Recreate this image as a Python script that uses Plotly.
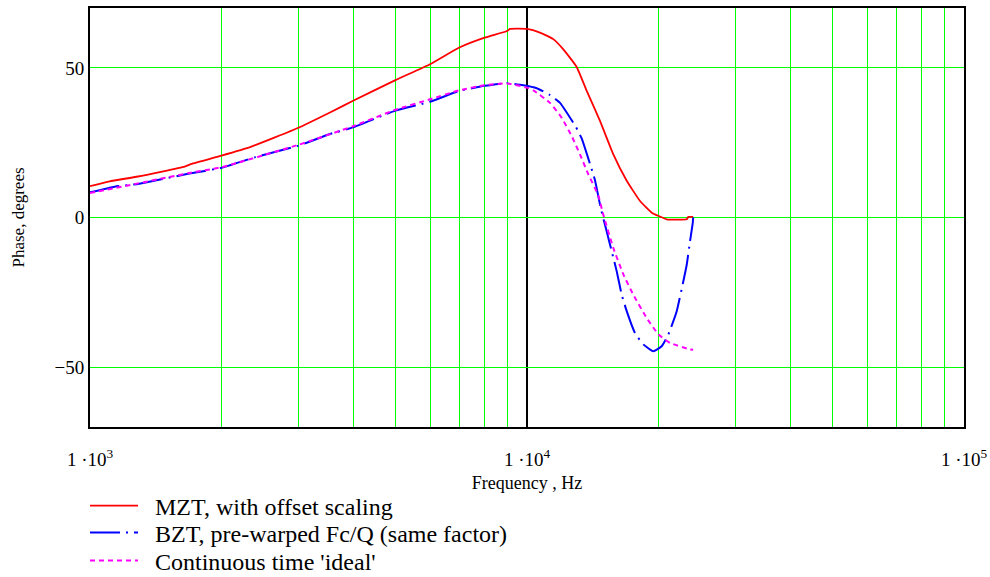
import plotly.graph_objects as go

# ---- data ----
freq_mzt = [1000, 1109, 1288, 1647, 1705, 2000, 2340, 3000, 3541, 4000, 5000, 6000, 7000, 8000,
            9000, 9144, 10000, 10708, 11486, 12110, 12992, 13698, 14690, 15760, 16912, 18143,
            19294, 20000, 20877, 23200, 23395, 24000]
phase_mzt = [10.5, 12.1, 13.7, 17.0, 17.9, 20.7, 23.7, 30.0, 35.1, 39.0, 45.9, 51.2, 56.8, 60.1,
             62.3, 63.0, 63.0, 61.8, 59.6, 56.2, 50.3, 42.3, 32.3, 21.1, 12.3, 5.5,
             1.6, 0.5, -0.6, -0.6, 0.2, 0.2]

freq_bzt = [1000, 1139, 1288, 1676, 2000, 2382, 3000, 3541, 4000, 5000, 6000, 7000, 8000, 9000,
            9806, 10524, 11288, 11899, 12944, 13339, 13984, 14304, 14746, 15221, 15627, 16045,
            16472, 16912, 17665, 18457, 19454, 20333, 21058, 22010, 22791, 23200, 23605, 23947, 24000]
phase_bzt = [8.4, 10.3, 11.2, 14.6, 16.6, 20.1, 24.0, 27.9, 30.1, 35.7, 38.7, 42.3, 44.0, 44.9,
             44.2, 43.2, 40.9, 38.3, 30.2, 26.4, 17.2, 12.5, 3.2, -4.7, -11.3, -18.0,
             -25.8, -31.3, -38.6, -42.4, -44.7, -43.0, -39.1, -31.3, -21.3, -15.8, -8.0, -1.9, 0.0]

freq_ideal = [1000, 1288, 1676, 2000, 3000, 4000, 5000, 6000, 7000, 8000, 9000, 10000, 10338,
              11288, 12007, 12655, 13220, 13808, 14563, 14950, 15760, 16615, 17509, 18792,
              20000, 21248, 23605, 24000]
phase_ideal = [8.2, 11.4, 14.8, 16.8, 24.3, 30.5, 36.0, 39.5, 42.5, 44.2, 44.8, 43.4, 42.5,
               38.3, 33.3, 27.2, 21.1, 14.5, 7.3, 0.9, -10.2, -19.0, -25.8, -33.6,
               -39.1, -41.9, -44.1, -44.2]

names = ["MZT, with offset scaling",
         "BZT, pre-warped Fc/Q (same factor)",
         "Continuous time 'ideal'"]

x_major = [1e3, 1e4, 1e5]
x_major_text = ["1 ·10<sup>3</sup>", "1 ·10<sup>4</sup>", "1 ·10<sup>5</sup>"]
x_minor = [2000, 3000, 4000, 5000, 6000, 7000, 8000, 9000,
           20000, 30000, 40000, 50000, 60000, 70000, 80000, 90000]
y_ticks = [-50, 0, 50]
y_tick_text = ["\u221250", "0", "50"]

FONT = "Liberation Serif"
GREEN = "#00ff00"
PAD = "\u00a0\u00a0"

fig = go.Figure()
fig.add_trace(go.Scatter(x=freq_mzt, y=phase_mzt, mode="lines", name=PAD + names[0], legend="legend",
                         line=dict(color="#ff0000", width=1.8, shape="spline", smoothing=0.4)))
fig.add_trace(go.Scatter(x=freq_bzt, y=phase_bzt, mode="lines", name=PAD + names[1], legend="legend2",
                         line=dict(color="#0000ff", width=2, dash="30px,6px,2px,6px",
                                   shape="spline", smoothing=0.4)))
fig.add_trace(go.Scatter(x=freq_ideal, y=phase_ideal, mode="lines", name=PAD + names[2], legend="legend3",
                         line=dict(color="#ff00ff", width=2, dash="5px,4px",
                                   shape="spline", smoothing=0.4)))

def leg(ypix):
    return dict(x=(85 - 90) / 874, y=(427 - ypix) / 419,
                xanchor="left", yanchor="middle", itemwidth=48,
                font=dict(family=FONT, size=24, color="black"),
                bgcolor="rgba(0,0,0,0)", borderwidth=0)

fig.update_layout(
    width=990, height=577,
    margin=dict(l=90, r=26, t=8, b=150, autoexpand=False),
    paper_bgcolor="white", plot_bgcolor="white",
    font=dict(family=FONT, color="black", size=19),
    showlegend=True,
    legend=leg(506), legend2=leg(533), legend3=leg(561),
    xaxis=dict(type="log", range=[3, 5],
               tickvals=x_major, ticktext=x_major_text,
               showgrid=True, gridcolor="black", gridwidth=2,
               showline=True, mirror=True, linecolor="black", linewidth=2,
               ticks="", ticklabelstandoff=14,
               tickfont=dict(family=FONT, size=19),
               minor=dict(tickvals=x_minor, showgrid=True, gridcolor=GREEN, gridwidth=1, ticks=""),
               zeroline=False,
               title=dict(text="Frequency , Hz", font=dict(family=FONT, size=18), standoff=8)),
    yaxis=dict(range=[-70, 70], tickvals=y_ticks, ticktext=y_tick_text,
               showgrid=True, gridcolor=GREEN, gridwidth=1,
               showline=True, mirror=True, linecolor="black", linewidth=2,
               ticks="", ticklen=0, ticklabelstandoff=0, zeroline=False,
               tickfont=dict(family=FONT, size=19),
               title=dict(text="Phase, degrees", font=dict(family=FONT, size=17), standoff=26)),
)

fig.write_html("out.html")
